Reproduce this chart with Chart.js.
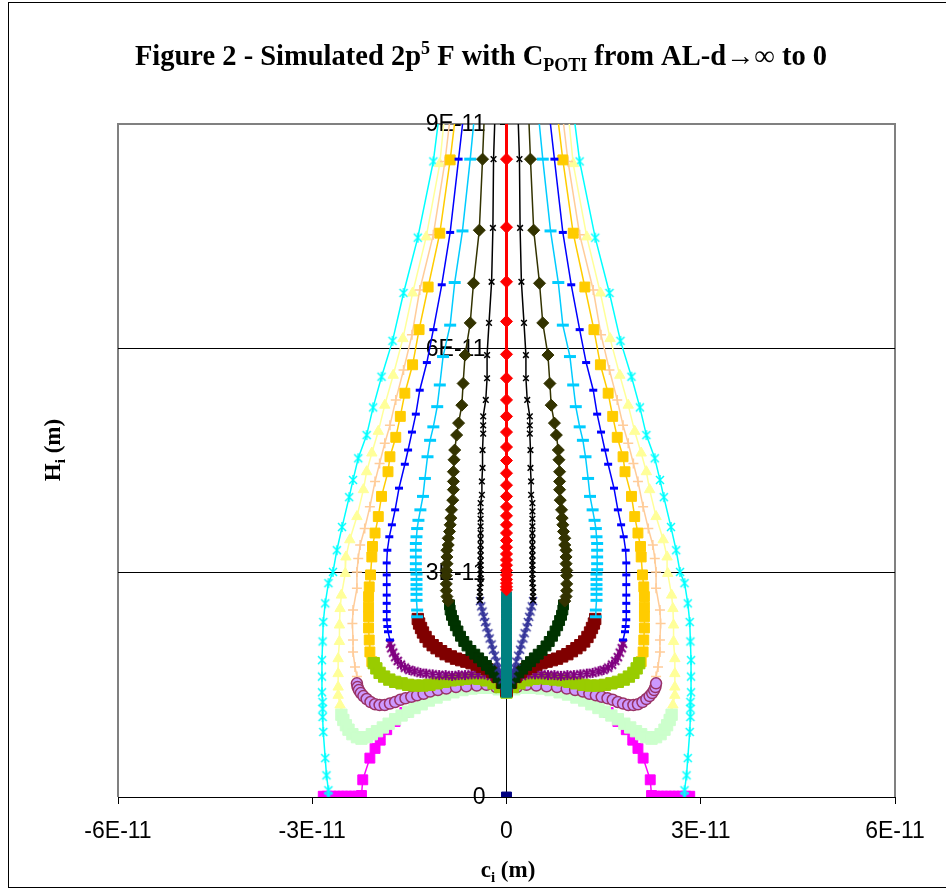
<!DOCTYPE html>
<html><head><meta charset="utf-8">
<script src="https://cdn.jsdelivr.net/npm/chart.js@4.4.1/dist/chart.umd.min.js"></script>
<style>html,body{margin:0;padding:0;background:#fff;}canvas{display:block;}</style>
</head><body>
<canvas id="c" width="946" height="890"></canvas>
<script>
// All values in units of 1E-11 m. Pairs are [c_i, H_i] for the left branch;
// the right branch is the mirror image (c -> -c).
const xTickLabels = ['-6E-11', '-3E-11', '0', '3E-11', '6E-11'];
const yTickLabels = ['0', '3E-11', '6E-11', '9E-11'];

const cyan = [[-0.97,9.6],[-1.13,8.50],[-1.37,7.48],[-1.59,6.74],[-1.76,6.10],[-1.93,5.62],[-2.06,5.21],[-2.16,4.84],[-2.29,4.53],[-2.37,4.24],[-2.43,4.01],[-2.54,3.61],[-2.62,3.30],[-2.68,3.01],[-2.75,2.86],[-2.80,2.59],[-2.83,2.34],[-2.84,2.08],[-2.85,1.83],[-2.85,1.61],[-2.85,1.40],[-2.84,1.27],[-2.84,1.18],[-2.84,1.07],[-2.83,0.87],[-2.80,0.52],[-2.78,0.29],[-2.75,0.09],[-2.75,0.01]];
const yellow = [[-0.90,9.6],[-1.03,8.47],[-1.24,7.49],[-1.45,6.74],[-1.60,6.13],[-1.75,5.64],[-1.88,5.24],[-1.98,4.89],[-2.08,4.60],[-2.16,4.35],[-2.21,4.11],[-2.31,3.75],[-2.42,3.44],[-2.48,3.21],[-2.49,2.99],[-2.55,2.70],[-2.57,2.52],[-2.58,2.30],[-2.58,2.08],[-2.60,1.85],[-2.60,1.65],[-2.60,1.47],[-2.60,1.36],[-2.57,1.23],[-2.55,1.12]];
const lightGreen = [[-2.55,1.10],[-2.52,1.03],[-2.48,0.96],[-2.44,0.90],[-2.38,0.84],[-2.31,0.80],[-2.24,0.78],[-2.16,0.80],[-2.08,0.84],[-2.00,0.88],[-1.91,0.93],[-1.82,0.98],[-1.72,1.04],[-1.62,1.09],[-1.52,1.14],[-1.42,1.19],[-1.31,1.24],[-1.20,1.29],[-1.08,1.33],[-0.95,1.37],[-0.82,1.40],[-0.68,1.43],[-0.54,1.45],[-0.40,1.46],[-0.26,1.46],[-0.12,1.44],[0,1.40]];
const peach = [[-0.80,9.6],[-0.95,8.50],[-1.13,7.52],[-1.34,6.78],[-1.46,6.18],[-1.59,5.71],[-1.71,5.31],[-1.80,4.97],[-1.88,4.73],[-1.96,4.46],[-2.03,4.22],[-2.11,3.88],[-2.19,3.59],[-2.26,3.37],[-2.29,3.19],[-2.31,3.01],[-2.31,2.79],[-2.37,2.50],[-2.38,2.32],[-2.37,2.10],[-2.37,1.94],[-2.34,1.74],[-2.31,1.61],[-2.31,1.52]];
const lavender = [[-2.31,1.52],[-2.30,1.47],[-2.28,1.43],[-2.25,1.39],[-2.21,1.35],[-2.16,1.31],[-2.10,1.27],[-2.03,1.24],[-1.96,1.23],[-1.88,1.23],[-1.80,1.25],[-1.72,1.27],[-1.64,1.30],[-1.56,1.32],[-1.47,1.34],[-1.38,1.36],[-1.28,1.38],[-1.18,1.41],[-1.06,1.43],[-0.93,1.45],[-0.78,1.47],[-0.62,1.48],[-0.46,1.49],[-0.31,1.50],[-0.16,1.47],[0,1.42]];
const orange = [[-0.72,9.6],[-0.87,8.52],[-1.03,7.54],[-1.21,6.82],[-1.35,6.25],[-1.45,5.78],[-1.57,5.40],[-1.64,5.09],[-1.71,4.81],[-1.80,4.55],[-1.83,4.35],[-1.93,4.02],[-1.98,3.75],[-2.03,3.53],[-2.07,3.35],[-2.08,3.21],[-2.10,2.97],[-2.12,2.81],[-2.13,2.68],[-2.13,2.54],[-2.13,2.41],[-2.13,2.26],[-2.12,2.10],[-2.11,1.94],[-2.08,1.81]];
const yellowGreen = [[-2.05,1.79],[-2.01,1.72],[-1.96,1.66],[-1.89,1.61],[-1.81,1.57],[-1.72,1.54],[-1.62,1.52],[-1.52,1.50],[-1.41,1.49],[-1.30,1.49],[-1.19,1.50],[-1.08,1.52],[-0.97,1.54],[-0.86,1.56],[-0.75,1.57],[-0.64,1.58],[-0.53,1.59],[-0.42,1.58],[-0.31,1.56],[-0.20,1.52],[-0.10,1.47],[0,1.40]];
const blue = [[-0.60,9.6],[-0.74,8.53],[-0.87,7.55],[-1.00,6.85],[-1.13,6.25],[-1.23,5.81],[-1.34,5.44],[-1.40,5.12],[-1.46,4.88],[-1.52,4.64],[-1.57,4.45],[-1.66,4.13],[-1.72,3.84],[-1.77,3.64],[-1.81,3.48],[-1.84,3.30],[-1.85,3.13],[-1.85,2.97],[-1.85,2.84],[-1.85,2.70],[-1.85,2.59],[-1.85,2.48],[-1.85,2.37],[-1.84,2.28],[-1.83,2.21],[-1.80,2.10]];
const purple = [[-1.80,2.05],[-1.78,1.99],[-1.75,1.93],[-1.72,1.87],[-1.68,1.82],[-1.63,1.77],[-1.57,1.73],[-1.50,1.70],[-1.42,1.68],[-1.33,1.66],[-1.24,1.65],[-1.14,1.64],[-1.04,1.63],[-0.94,1.63],[-0.84,1.62],[-0.74,1.63],[-0.64,1.63],[-0.54,1.64],[-0.44,1.64],[-0.34,1.64],[-0.24,1.62],[-0.15,1.58],[-0.07,1.51],[0,1.42]];
const skyBlue = [[-0.44,9.6],[-0.56,8.53],[-0.68,7.57],[-0.80,6.88],[-0.87,6.31],[-0.98,5.89],[-1.03,5.51],[-1.07,5.22],[-1.13,4.95],[-1.18,4.77],[-1.22,4.55],[-1.26,4.26],[-1.29,4.02],[-1.33,3.84],[-1.36,3.70],[-1.38,3.59],[-1.39,3.48],[-1.40,3.39],[-1.40,3.30],[-1.40,3.21],[-1.40,3.12],[-1.40,3.04],[-1.39,2.98],[-1.39,2.91],[-1.39,2.84],[-1.39,2.78],[-1.39,2.71],[-1.39,2.63],[-1.38,2.50],[-1.38,2.41]];
const darkRed = [[-1.37,2.38],[-1.35,2.32],[-1.32,2.26],[-1.29,2.20],[-1.25,2.14],[-1.20,2.08],[-1.14,2.03],[-1.08,1.99],[-1.01,1.95],[-0.94,1.91],[-0.86,1.88],[-0.78,1.85],[-0.70,1.83],[-0.62,1.81],[-0.54,1.79],[-0.46,1.77],[-0.38,1.74],[-0.30,1.71],[-0.22,1.67],[-0.14,1.61],[-0.07,1.53],[0,1.42]];
const olive = [[-0.32,9.6],[-0.37,8.53],[-0.42,7.58],[-0.51,6.87],[-0.56,6.34],[-0.64,5.91],[-0.67,5.53],[-0.69,5.24],[-0.74,5.00],[-0.77,4.84],[-0.80,4.64],[-0.81,4.51],[-0.82,4.35],[-0.82,4.22],[-0.82,4.11],[-0.83,3.97],[-0.85,3.84],[-0.86,3.73],[-0.87,3.64],[-0.88,3.55],[-0.90,3.46],[-0.90,3.37],[-0.92,3.30],[-0.92,3.21],[-0.92,3.12],[-0.93,3.03],[-0.93,2.96],[-0.93,2.85],[-0.93,2.76],[-0.92,2.68],[-0.90,2.62]];
const darkGreen = [[-0.88,2.57],[-0.87,2.50],[-0.85,2.43],[-0.82,2.36],[-0.79,2.29],[-0.75,2.22],[-0.71,2.15],[-0.66,2.08],[-0.61,2.02],[-0.55,1.96],[-0.49,1.91],[-0.43,1.86],[-0.37,1.81],[-0.31,1.76],[-0.25,1.71],[-0.19,1.66],[-0.13,1.60],[-0.07,1.52],[0,1.42]];
const blackX = [[-0.16,9.6],[-0.20,8.53],[-0.21,7.61],[-0.23,6.89],[-0.27,6.34],[-0.30,5.91],[-0.30,5.60],[-0.32,5.31],[-0.36,5.09],[-0.36,4.97],[-0.36,4.86],[-0.37,4.64],[-0.37,4.40],[-0.38,4.22],[-0.38,4.04],[-0.40,3.93],[-0.40,3.82],[-0.40,3.72],[-0.40,3.62],[-0.40,3.53],[-0.40,3.45],[-0.40,3.37],[-0.40,3.30],[-0.40,3.23],[-0.40,3.16],[-0.40,3.10],[-0.40,3.04],[-0.40,2.98],[-0.40,2.92],[-0.40,2.86],[-0.41,2.80],[-0.41,2.74],[-0.41,2.68],[-0.41,2.63]];
const navy = [[-0.41,2.62],[-0.39,2.55],[-0.37,2.48],[-0.35,2.41],[-0.33,2.34],[-0.31,2.27],[-0.28,2.19],[-0.26,2.12],[-0.23,2.04],[-0.21,1.97],[-0.18,1.89],[-0.15,1.81],[-0.12,1.73],[-0.09,1.65],[-0.06,1.57],[-0.03,1.49],[0,1.42]];
const red = [[0,9.6],[0,8.53],[0,7.62],[0,6.89],[0,6.36],[0,5.92],[0,5.60],[0,5.31],[0,5.09],[0,4.88],[0,4.68],[0,4.50],[0,4.33],[0,4.17],[0,4.02],[0,3.88],[0,3.76],[0,3.64],[0,3.53],[0,3.43],[0,3.34],[0,3.25],[0,3.17],[0,3.10],[0,3.03],[0,2.97],[0,2.91],[0,2.86],[0,2.81],[0,2.77]];
const teal = [[0,2.68],[0,2.61],[0,2.53],[0,2.46],[0,2.38],[0,2.31],[0,2.23],[0,2.16],[0,2.08],[0,2.01],[0,1.93],[0,1.86],[0,1.79],[0,1.71],[0,1.64],[0,1.57],[0,1.50],[0,1.44],[0,1.40]];
const magenta = [[-2.83,0.01],[-2.77,0.01],[-2.71,0.01],[-2.65,0.01],[-2.59,0.01],[-2.53,0.01],[-2.47,0.01],[-2.41,0.01],[-2.35,0.01],[-2.29,0.01],[-2.24,0.02],[-2.22,0.23],[-2.11,0.52],[-2.03,0.65],[-1.95,0.76],[-1.85,0.90],[-1.72,1.01],[-1.57,1.13],[-1.39,1.25],[-1.20,1.34],[-1.00,1.41],[-0.80,1.46],[-0.60,1.49],[-0.40,1.51],[-0.20,1.50],[0,1.45]];
const origin = [[0,0]];

function pts(arr, mirror) {
  const left = arr.map(p => ({x: p[0], y: p[1]}));
  if (!mirror) return left;
  const right = arr.map(p => ({x: -p[0], y: p[1]})).reverse();
  return left.concat([{x: null, y: null}], right);
}
// Excel-like "star" marker: an x with a vertical bar
function starMark(color, r, lw) {
  const s = Math.ceil(2 * r + 4);
  const cv = document.createElement('canvas');
  cv.width = s; cv.height = s;
  const g = cv.getContext('2d');
  const c = s / 2;
  g.strokeStyle = color; g.lineWidth = lw; g.lineCap = 'butt';
  g.beginPath();
  g.moveTo(c - r * 0.8, c - r * 0.8); g.lineTo(c + r * 0.8, c + r * 0.8);
  g.moveTo(c + r * 0.8, c - r * 0.8); g.lineTo(c - r * 0.8, c + r * 0.8);
  g.moveTo(c, c - r); g.lineTo(c, c + r);
  g.stroke();
  return cv;
}
function ds(arr, mirror, color, style, radius, opts) {
  return Object.assign({
    data: pts(arr, mirror), showLine: true, borderColor: color, borderWidth: 1.5,
    pointStyle: style, pointRadius: radius, pointBackgroundColor: color,
    pointBorderColor: color, pointBorderWidth: 1, spanGaps: false, tension: 0
  }, opts || {});
}

// index 0 is drawn on top
const datasets = [
  ds(red, false, '#FF0000', 'rectRot', 6, {borderWidth: 3}),
  ds(origin, false, '#000080', 'rect', 7),
  ds(teal, false, '#008080', 'rect', 7),
  ds(blackX, true, '#000000', 'crossRot', 4, {pointBorderWidth: 1.5}),
  ds(navy, true, '#333399', starMark('#333399', 5, 1.5), 5),
  ds(olive, true, '#333300', 'rectRot', 6),
  ds(darkGreen, true, '#003300', 'rect', 7),
  ds(skyBlue, true, '#00CCFF', 'line', 6, {pointBorderWidth: 3}),
  ds(darkRed, true, '#800000', 'rect', 8),
  ds(blue, true, '#0000FF', 'line', 4, {pointBorderWidth: 3}),
  ds(purple, true, '#800080', starMark('#800080', 5, 2), 5),
  ds(yellowGreen, true, '#99CC00', 'rect', 8),
  ds(orange, true, '#FFCC00', 'rect', 7),
  ds(lavender, true, '#993366', 'circle', 5.5, {pointBackgroundColor: '#CC99FF', pointBorderWidth: 1.5}),
  ds(peach, true, '#FFCC99', 'cross', 5, {pointBorderWidth: 1.5}),
  ds(lightGreen, true, '#CCFFCC', 'rect', 8),
  ds(yellow, true, '#FFFF99', 'triangle', 6),
  ds(cyan, true, '#00FFFF', starMark('#00FFFF', 5, 1.5), 5),
  ds(magenta, true, '#FF00FF', 'rect', 7)
];

const titleParts = [['Figure 2 - Simulated 2p','n'],['5','sup'],[' F with C','n'],['POTI','sub'],[' from AL-d\u2192\u221E to 0','n']];
const xTitleParts = [['c','n'],['i','sub'],[' (m)','n']];
const yTitleParts = [['H','n'],['i','sub'],[' (m)','n']];

function drawRich(ctx, parts, cx, y, big, small, supDy, subDy) {
  let w = 0;
  parts.forEach(p => { ctx.font = p[1] === 'n' ? big : small; w += ctx.measureText(p[0]).width; });
  let x = cx - w / 2;
  parts.forEach(p => {
    ctx.font = p[1] === 'n' ? big : small;
    const dy = p[1] === 'sup' ? supDy : (p[1] === 'sub' ? subDy : 0);
    ctx.fillText(p[0], x, y + dy);
    x += ctx.measureText(p[0]).width;
  });
}

const sans = '"Liberation Sans", Arial, sans-serif';
const serif = '"Liberation Serif", "Times New Roman", serif';

const deco = {
  id: 'deco',
  beforeDraw(chart) {
    const {ctx, chartArea: a} = chart;
    ctx.save();
    ctx.fillStyle = '#fff';
    ctx.fillRect(0, 0, chart.width, chart.height);
    ctx.strokeStyle = '#000'; ctx.lineWidth = 1;
    ctx.strokeRect(8.5, 2.5, 960, 885);
    ctx.strokeStyle = '#808080'; ctx.lineWidth = 2;
    ctx.beginPath();
    ctx.moveTo(a.left, a.bottom); ctx.lineTo(a.left, a.top);
    ctx.lineTo(a.right, a.top); ctx.lineTo(a.right, a.bottom);
    ctx.stroke();
    ctx.restore();
  },
  beforeDatasetsDraw(chart) {
    // y tick labels sit left of the centred value axis, beneath the series
    const {ctx, scales: {x, y}} = chart;
    const ax = x.getPixelForValue(0);
    ctx.save();
    ctx.fillStyle = '#000';
    ctx.font = '23px ' + sans;
    ctx.textAlign = 'right';
    ctx.textBaseline = 'middle';
    y.ticks.forEach((t, i) => {
      ctx.fillText(yTickLabels[i], ax - 21, y.getPixelForValue(t.value) + 1);
    });
    ctx.restore();
  },
  afterDraw(chart) {
    const ctx = chart.ctx;
    ctx.save();
    ctx.fillStyle = '#000';
    ctx.textBaseline = 'alphabetic';
    ctx.textAlign = 'left';
    drawRich(ctx, titleParts, 481, 65, 'bold 28.5px ' + serif, 'bold 18px ' + serif, -11, 6);
    drawRich(ctx, xTitleParts, 508, 877, 'bold 23px ' + serif, 'bold 15px ' + serif, -8, 5);
    ctx.translate(60, 450);
    ctx.rotate(-Math.PI / 2);
    drawRich(ctx, yTitleParts, 0, 0, 'bold 23px ' + serif, 'bold 15px ' + serif, -8, 5);
    ctx.restore();
  }
};

new Chart(document.getElementById('c'), {
  type: 'scatter',
  data: {datasets},
  options: {
    responsive: false, animation: false, devicePixelRatio: 1,
    layout: {padding: {left: 118, right: 51, top: 124, bottom: 0}},
    plugins: {legend: {display: false}, tooltip: {enabled: false}, title: {display: false}},
    scales: {
      x: {
        type: 'linear', position: 'bottom', min: -6, max: 6,
        afterFit: s => { s.height = 93; },
        ticks: {stepSize: 3, autoSkip: false, maxRotation: 0, color: '#000', font: {family: sans, size: 23}, padding: 14,
          callback: (v, i) => xTickLabels[i]},
        grid: {display: true, drawOnChartArea: false, drawTicks: true, tickLength: 7, tickColor: '#000', tickWidth: 1},
        border: {display: true, color: '#000', width: 1}
      },
      y: {
        type: 'linear', position: {x: 0}, min: 0, max: 9,
        ticks: {stepSize: 3, autoSkip: false, display: false},
        grid: {display: true, drawOnChartArea: true, drawTicks: true, tickLength: 6,
          color: c => (c.tick && (c.tick.value === 3 || c.tick.value === 6)) ? '#000' : 'rgba(0,0,0,0)',
          tickColor: '#000', lineWidth: 1},
        border: {display: true, color: '#000', width: 1}
      }
    }
  },
  plugins: [deco]
});
</script>
</body></html>
